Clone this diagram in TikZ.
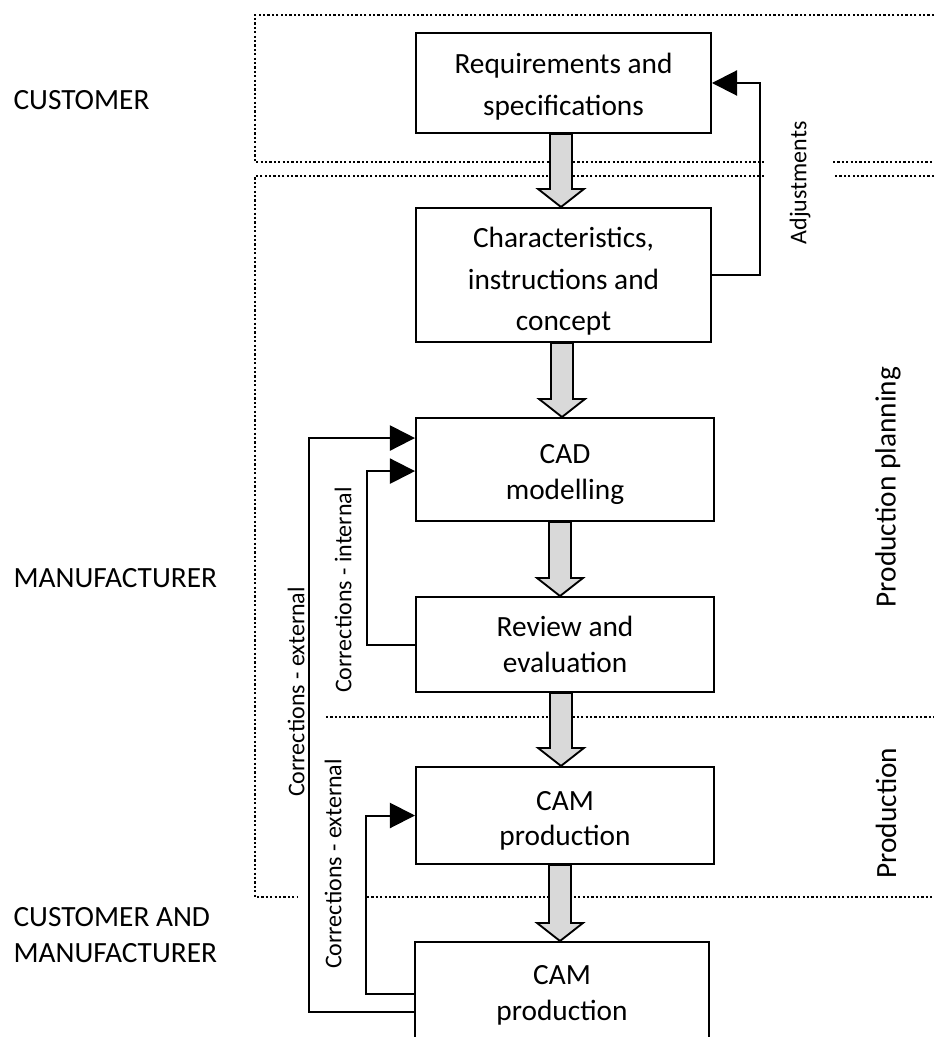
\documentclass[tikz,border=0pt]{standalone}
\usepackage{fontspec}
\setmainfont{Carlito}
\usetikzlibrary{arrows.meta,calc}
\definecolor{arrowgray}{HTML}{D9D9D9}
\newcommand\blockarr[3]{%
  \draw[blockarrow] let \p1=(#1.south), \p2=(#2.north), \p3=(#3,0) in
    (\x3-4.125pt,\y1) -- (\x3+4.125pt,\y1) -- (\x3+4.125pt,\y2+6.75pt)
    -- (\x3+8.6pt,\y2+6.75pt) -- (\x3,\y2) -- (\x3-8.6pt,\y2+6.75pt)
    -- (\x3-4.125pt,\y2+6.75pt) -- cycle;}
\newcommand\topstrut[1]{\rule{0pt}{#1}}
\begin{document}
\begin{tikzpicture}[x=0.375pt,y=-0.375pt,
  box/.style={draw, line width=0.75pt, fill=white, align=center, inner sep=0pt,
    font=\fontsize{11}{13.3}\selectfont},
  widebox/.style={box, font=\fontsize{11}{15.6}\selectfont},
  blockarrow/.style={draw, line width=0.7pt, fill=arrowgray, line join=miter},
  conn/.style={line width=0.75pt, -{Triangle[length=9.4pt,width=9.4pt]}},
  region/.style={line width=0.85pt, dash pattern=on 0.8pt off 0.85pt},
  sidelabel/.style={font=\fontsize{11}{13.3}\selectfont, rotate=90, inner sep=0pt},
  connlabel/.style={font=\fontsize{9}{11}\selectfont, rotate=90, inner sep=0pt},
  grouplabel/.style={font=\fontsize{11}{13.3}\selectfont, anchor=west, align=left, inner sep=0pt}
]
\clip (0,0) rectangle (934,1037);
\fill[white] (0,0) rectangle (934,1037);

% region borders
\draw[region] (934,15) -- (255,15) -- (255,162) -- (764,162);
\draw[region] (833,162) -- (934,162);
\draw[region] (934,176) -- (833,176);
\draw[region] (764,176) -- (255,176) -- (255,897) -- (297,897);
\draw[region] (367,897) -- (934,897);
\draw[region] (326,717) -- (934,717);

% boxes
\node[widebox, minimum width=110.6pt, minimum height=37.5pt] (req) at (563.5,83) {\topstrut{10.5pt}Requirements and\\specifications};
\node[widebox, minimum width=110.6pt, minimum height=50.25pt] (char) at (563.5,275) {\topstrut{12.5pt}Characteristics,\\instructions and\\concept};
\node[box, minimum width=111.75pt, minimum height=38.6pt] (cad) at (565,469.5) {\topstrut{11pt}CAD\\modelling};
\node[box, minimum width=111.75pt, minimum height=35.6pt] (review) at (565,644.5) {Review and\\evaluation};
\node[box, minimum width=111.75pt, minimum height=36.4pt] (cam1) at (565,815.5) {\topstrut{11pt}CAM\\production};
\node[box, minimum width=110.25pt, minimum height=37.5pt] (cam2) at (562,992) {\topstrut{9.8pt}CAM\\production};

% block arrows
\blockarr{req}{char}{561}
\blockarr{char}{cad}{562}
\blockarr{cad}{review}{560}
\blockarr{review}{cam1}{561}
\blockarr{cam1}{cam2}{560}

% feedback connectors
\draw[conn] (char.east) -- ++(48,0) |- (req.east);
\draw[conn] (review.west) -- ++(-48,0) |- ([yshift=-0.6pt]cad.west);
\draw[conn] ([yshift=-7.5pt]cam2.west) -- ++(-105,0) |- ([yshift=11.8pt]cad.west);
\draw[conn] ([yshift=-0.75pt]cam2.west) -- ++(-48,0) |- (cam1.west);

% connector labels
\node[connlabel] (adj) at (800,183) {Adjustments};
\node[connlabel] (ci) at (343,590) {Corrections - internal};
\node[connlabel] (ce1) at (296,692) {Corrections - external};
\node[connlabel] (ce2) at (333,864) {Corrections - external};

% side labels
\node[sidelabel] (pp) at (888,487) {Production planning};
\node[sidelabel] (pr) at (886,813) {Production};

% group labels
\node[grouplabel] (lc) at (13,100) {CUSTOMER};
\node[grouplabel] (lm) at (13,578) {MANUFACTURER};
\node[grouplabel] (lcm) at (13,935) {CUSTOMER AND\\MANUFACTURER};
\end{tikzpicture}
\end{document}
